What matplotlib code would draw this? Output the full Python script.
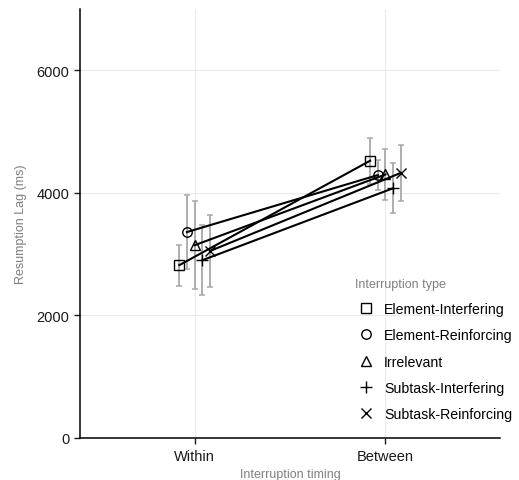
import numpy as np
import matplotlib.pyplot as plt

plt.rcParams['font.family'] = ['Liberation Sans', 'DejaVu Sans']

# mean resumption lag and standard error per interruption type
timing = ['Within', 'Between']
types = ['Element-Interfering', 'Element-Reinforcing', 'Irrelevant',
         'Subtask-Interfering', 'Subtask-Reinforcing']
markers = ['s', 'o', '^', '+', 'x']
msizes = [6.5, 6.8, 7.5, 9.0, 7.5]

lag_mean = {
    'Element-Interfering': [2820, 4525],
    'Element-Reinforcing': [3360, 4290],
    'Irrelevant': [3145, 4300],
    'Subtask-Interfering': [2900, 4075],
    'Subtask-Reinforcing': [3050, 4325],
}
lag_se = {
    'Element-Interfering': [335, 375],
    'Element-Reinforcing': [605, 245],
    'Irrelevant': [715, 415],
    'Subtask-Interfering': [570, 410],
    'Subtask-Reinforcing': [585, 455],
}

fig = plt.figure(figsize=(5.19, 4.81), dpi=100)
ax = fig.add_axes([80 / 519, 42 / 481, 420 / 519, 429 / 481])

x = np.arange(1, len(timing) + 1)
offsets = np.linspace(-0.08, 0.08, len(types))

for t, m, ms, dx in zip(types, markers, msizes, offsets):
    xs = x + dx
    ax.errorbar(xs, lag_mean[t], yerr=lag_se[t], fmt='none', ecolor='#a8a8a8',
                elinewidth=1.3, capsize=2.2, capthick=1.1, zorder=2)
    ax.plot(xs, lag_mean[t], color='black', lw=1.5, zorder=3)
    if m in ('+', 'x'):
        ax.plot(xs, lag_mean[t], ls='none', marker=m, ms=ms, mew=1.0,
                color='black', zorder=4, label=t)
    else:
        ax.plot(xs, lag_mean[t], ls='none', marker=m, ms=ms, mew=1.0,
                mfc='none', mec='black', zorder=4, label=t)

ax.set_xlim(0.4, 2.6)
ax.set_ylim(0, 7000)
ax.set_xticks(x)
ax.set_xticklabels(timing)
ax.set_yticks([0, 2000, 4000, 6000])
ax.grid(True, color='#ebebeb', lw=0.8)
ax.set_axisbelow(True)

for s in ['top', 'right']:
    ax.spines[s].set_visible(False)
for s in ['left', 'bottom']:
    ax.spines[s].set_linewidth(1.1)
ax.tick_params(length=4.3, width=1.0, labelsize=10.5, colors='#1a1a1a', pad=3.5)

ax.set_ylabel('Resumption Lag (ms)', fontsize=9, color='#808080', labelpad=7)
ax.set_xlabel('Interruption timing', fontsize=9, color='#808080', labelpad=4)

leg = ax.legend(title='Interruption type', loc='upper left',
                bbox_to_anchor=(355 / 519, 1 - 279 / 481),
                bbox_transform=fig.transFigure, frameon=False, fontsize=10.2,
                title_fontsize=9, borderpad=0, borderaxespad=0,
                handletextpad=0.45, labelspacing=0.86, handlelength=1.6,
                markerscale=1.0)
leg.get_title().set_color('#808080')
leg._legend_box.align = 'left'

fig.savefig('out.png', dpi=100)
